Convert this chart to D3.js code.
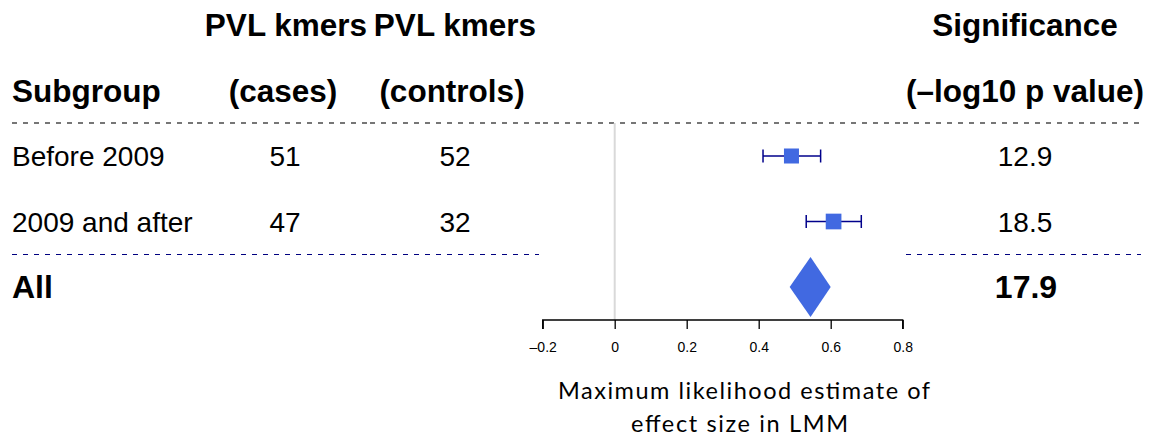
<!DOCTYPE html>
<html><head><meta charset="utf-8">
<script src="https://cdn.jsdelivr.net/npm/d3@7"></script>
<style>
html,body{margin:0;padding:0;background:#fff;}
svg{display:block;}
</style></head>
<body>
<script>
// ---- data ----
const subgroups = ["Before 2009", "2009 and after"];
const casesKmers = [51, 47];
const controlsKmers = [52, 32];
const estimates = [0.491, 0.608];
const lowerCI = [0.412, 0.532];
const upperCI = [0.572, 0.685];
const significance = ["12.9", "18.5"];
const overallLabel = "All";
const overallEstimate = 0.544;
const overallLower = 0.486;
const overallUpper = 0.600;
const overallSignificance = "17.9";
const xTicks = [-0.2, 0, 0.2, 0.4, 0.6, 0.8];

const W = 1156, H = 447;
const svg = d3.select("body").append("svg").attr("width", W).attr("height", H);

const x = d3.scaleLinear().domain([-0.2, 0.8]).range([542.7, 902.7]);
const y = d3.scalePoint().domain([...subgroups, overallLabel]).range([156, 287]);

const sans = "'Liberation Sans', Arial, Helvetica, sans-serif";

// headers
const hdr = svg.append("g").attr("font-family", sans).attr("font-weight", "bold").attr("font-size", 31.5).attr("fill", "#000");
hdr.append("text").attr("x", 12).attr("y", 102).text("Subgroup");
hdr.append("text").attr("x", 286).attr("y", 36).attr("text-anchor", "middle").text("PVL kmers");
hdr.append("text").attr("x", 455).attr("y", 36).attr("text-anchor", "middle").text("PVL kmers");
hdr.append("text").attr("x", 283).attr("y", 102).attr("text-anchor", "middle").text("(cases)");
hdr.append("text").attr("x", 452).attr("y", 102).attr("text-anchor", "middle").text("(controls)");
hdr.append("text").attr("x", 1025).attr("y", 36).attr("text-anchor", "middle").text("Significance");
hdr.append("text").attr("x", 1025).attr("y", 102).attr("text-anchor", "middle").text("(\u2013log10 p value)");

// dashed separators
function dashed(x1, x2, yy, color, w) {
  svg.append("line").attr("x1", x1).attr("x2", x2).attr("y1", yy).attr("y2", yy)
    .attr("stroke", color).attr("stroke-width", w).attr("stroke-dasharray", "5,6");
}
[[12,197],[197,370],[370,543],[543,903],[903,1145]].forEach(s => dashed(s[0], s[1], 123, "#4a4a4a", 1.4));
[[12,197],[197,370],[370,539]].forEach(s => dashed(s[0], s[1], 254.5, "#000080", 1.2));
dashed(906, 1141, 254.5, "#000080", 1.2);

// zero line
svg.append("line").attr("x1", x(0)).attr("x2", x(0)).attr("y1", 123).attr("y2", 320)
  .attr("stroke", "#d9d9d9").attr("stroke-width", 2);

// row texts
const rows = svg.append("g").attr("font-family", sans).attr("font-size", 28).attr("fill", "#000");
subgroups.forEach((s, i) => {
  const yy = y(s) + 10;
  rows.append("text").attr("x", 12).attr("y", yy).text(s);
  rows.append("text").attr("x", 285).attr("y", yy).attr("text-anchor", "middle").text(casesKmers[i]);
  rows.append("text").attr("x", 455).attr("y", yy).attr("text-anchor", "middle").text(controlsKmers[i]);
  rows.append("text").attr("x", 1025).attr("y", yy).attr("text-anchor", "middle").text(significance[i]);
});
const allG = svg.append("g").attr("font-family", sans).attr("font-size", 32).attr("font-weight", "bold").attr("fill", "#000");
allG.append("text").attr("x", 12).attr("y", y(overallLabel) + 11).text(overallLabel);
allG.append("text").attr("x", 1026).attr("y", y(overallLabel) + 11).attr("text-anchor", "middle").text(overallSignificance);

// CIs + squares
const se0 = upperCI[0] - lowerCI[0];
const ci = svg.append("g");
subgroups.forEach((s, i) => {
  const yy = y(s);
  ci.append("line").attr("x1", x(lowerCI[i])).attr("x2", x(upperCI[i])).attr("y1", yy).attr("y2", yy)
    .attr("stroke", "#00008B").attr("stroke-width", 1.5);
  [lowerCI[i], upperCI[i]].forEach(v => {
    ci.append("line").attr("x1", x(v)).attr("x2", x(v)).attr("y1", yy - 6.5).attr("y2", yy + 6.5)
      .attr("stroke", "#00008B").attr("stroke-width", 1.5);
  });
  const sz = 15 * se0 / (upperCI[i] - lowerCI[i]);
  ci.append("rect").attr("x", x(estimates[i]) - sz / 2).attr("y", yy - sz / 2)
    .attr("width", sz).attr("height", sz).attr("fill", "#4169E1");
});

// diamond
const yd = y(overallLabel);
svg.append("path")
  .attr("d", `M${x(overallLower)},${yd} L${x(overallEstimate)},${yd - 30} L${x(overallUpper)},${yd} L${x(overallEstimate)},${yd + 30} Z`)
  .attr("fill", "#4169E1");

// axis
const axis = d3.axisBottom(x).tickValues(xTicks).tickSize(9)
  .tickFormat(d => d === 0 ? "0" : (d < 0 ? "\u2013" + Math.abs(d).toFixed(1) : d.toFixed(1)));
const ag = svg.append("g").attr("transform", "translate(0,320)").call(axis);
ag.select(".domain").attr("d", `M${x(-0.2)},9V0H${x(0.8)}V9`).attr("stroke", "#000").attr("stroke-width", 1.3);
ag.selectAll(".tick line").attr("stroke", "#000").attr("stroke-width", 1.3);
ag.selectAll(".tick text").attr("font-family", sans).attr("font-size", 14).attr("fill", "#000")
  .attr("y", 22).attr("dy", "0.71em");

// axis title
const tt = svg.append("text").attr("font-family", "Lato, 'Open Sans', sans-serif").attr("font-size", 23.5)
  .attr("fill", "#000").attr("text-anchor", "middle");
tt.append("tspan").attr("x", 744).attr("y", 399).attr("textLength", 372).attr("lengthAdjust", "spacing").text("Maximum likelihood estimate of");
tt.append("tspan").attr("x", 739.5).attr("y", 432).attr("textLength", 217).attr("lengthAdjust", "spacing").text("effect size in LMM");
</script>
</body></html>
